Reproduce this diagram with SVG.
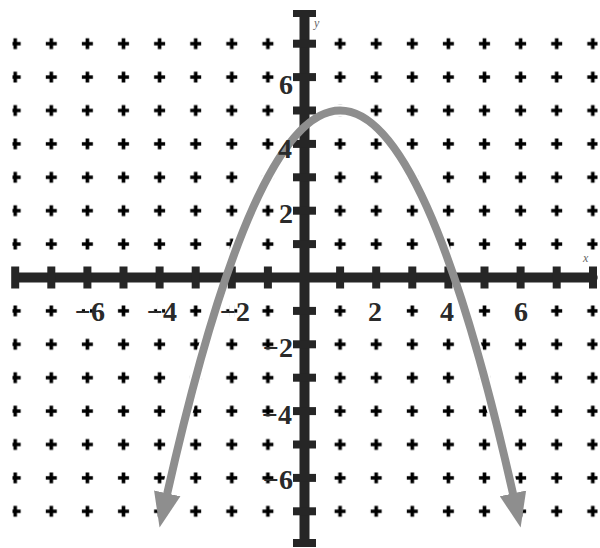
<svg xmlns="http://www.w3.org/2000/svg" width="600" height="548" viewBox="0 0 600 548">
  <style>
    .axis { fill: #262626; }
    .curve { fill: none; stroke: #8e8e8e; stroke-width: 8; }
    .halo { fill: none; stroke: #fff; stroke-width: 12; }
    .lbl { font-family: "Liberation Serif", "Times New Roman", serif; font-weight: bold; font-size: 28px; fill: #2a2a2a; }
    .ax { font-family: "Liberation Serif", "Times New Roman", serif; font-style: italic; font-size: 12px; fill: #666; }
  </style>
  <defs>
    <pattern id="plusGrid" patternUnits="userSpaceOnUse" x="285.95" y="260.8" width="36.1" height="33.4">
      <path d="M12.55,16.7 H23.55 M18.05,11.2 V22.2" stroke="#000" stroke-width="3.6"/>
    </pattern>
    <mask id="labelGaps" maskUnits="userSpaceOnUse" x="0" y="0" width="600" height="548">
      <rect width="600" height="548" fill="#fff"/>
      <rect x="85" y="303" width="5" height="16" fill="#000"/>
      <rect x="157.1" y="303" width="5" height="16" fill="#000"/>
      <rect x="229.3" y="303" width="5" height="16" fill="#000"/>
      <rect x="368.7" y="303" width="15" height="16" fill="#000"/>
      <rect x="440.9" y="303" width="15" height="16" fill="#000"/>
      <rect x="513.1" y="303" width="15" height="16" fill="#000"/>
    </mask>
    <marker id="ah" markerUnits="userSpaceOnUse" markerWidth="40" markerHeight="30" refX="2" refY="15" orient="auto-start-reverse">
      <path d="M0,1.5 L35,15 L0,28.5 z" fill="#8e8e8e"/>
    </marker>
  </defs>
  <rect width="600" height="548" fill="#fff"/>

  <g id="grid-marks">
    <rect x="12.5" y="30" width="585" height="495" fill="url(#plusGrid)" mask="url(#labelGaps)"/>
  </g>

  <g id="curve-halo">
    <path class="halo" d="M166.8,495.3 Q340.1,-274.3 513.4,495.3"/>
  </g>

  <g id="x-axis" class="axis">
    <rect x="13" y="272.5" width="584" height="10"/>
    <rect x="11.2" y="266.5" width="8" height="22"/>
    <rect x="47.3" y="266.5" width="8" height="22"/>
    <rect x="83.4" y="266.5" width="8" height="22"/>
    <rect x="119.5" y="266.5" width="8" height="22"/>
    <rect x="155.6" y="266.5" width="8" height="22"/>
    <rect x="191.7" y="266.5" width="8" height="22"/>
    <rect x="227.8" y="266.5" width="8" height="22"/>
    <rect x="263.9" y="266.5" width="8" height="22"/>
    <rect x="336.1" y="266.5" width="8" height="22"/>
    <rect x="372.2" y="266.5" width="8" height="22"/>
    <rect x="408.3" y="266.5" width="8" height="22"/>
    <rect x="444.4" y="266.5" width="8" height="22"/>
    <rect x="480.5" y="266.5" width="8" height="22"/>
    <rect x="516.6" y="266.5" width="8" height="22"/>
    <rect x="552.7" y="266.5" width="8" height="22"/>
    <rect x="589" y="266.5" width="8" height="22"/>
  </g>

  <g id="y-axis" class="axis">
    <rect x="299.5" y="10" width="10" height="537"/>
    <rect x="293" y="10" width="23" height="7"/>
    <rect x="293" y="39.7" width="23" height="8"/>
    <rect x="293" y="73.1" width="23" height="8"/>
    <rect x="293" y="106.5" width="23" height="8"/>
    <rect x="293" y="139.9" width="23" height="8"/>
    <rect x="293" y="173.3" width="23" height="8"/>
    <rect x="293" y="206.7" width="23" height="8"/>
    <rect x="293" y="240.1" width="23" height="8"/>
    <rect x="293" y="306.9" width="23" height="8"/>
    <rect x="293" y="340.3" width="23" height="8"/>
    <rect x="293" y="373.7" width="23" height="8"/>
    <rect x="293" y="407.1" width="23" height="8"/>
    <rect x="293" y="440.5" width="23" height="8"/>
    <rect x="293" y="473.9" width="23" height="8"/>
    <rect x="293" y="507.3" width="23" height="8"/>
    <rect x="293" y="539" width="23" height="8"/>
  </g>

  <g id="parabola">
    <path class="curve" d="M166.8,495.3 Q340.1,-274.3 513.4,495.3" marker-start="url(#ah)" marker-end="url(#ah)"/>
  </g>

  <g id="x-labels">
    <text class="lbl" x="105" y="321" text-anchor="end">−6</text>
    <text class="lbl" x="177" y="321" text-anchor="end">−4</text>
    <text class="lbl" x="250" y="321" text-anchor="end">−2</text>
    <text class="lbl" x="375" y="321" text-anchor="middle">2</text>
    <text class="lbl" x="447" y="321" text-anchor="middle">4</text>
    <text class="lbl" x="521" y="321" text-anchor="middle">6</text>
  </g>

  <g id="y-labels">
    <text class="lbl" x="293" y="94" text-anchor="end">6</text>
    <text class="lbl" x="292" y="158" text-anchor="end">4</text>
    <text class="lbl" x="293" y="223" text-anchor="end">2</text>
    <text class="lbl" x="293" y="357" text-anchor="end">−2</text>
    <text class="lbl" x="292" y="424" text-anchor="end">−4</text>
    <text class="lbl" x="293" y="489" text-anchor="end">−6</text>
  </g>

  <g id="axis-names">
    <text class="ax" x="314" y="27">y</text>
    <text class="ax" x="583" y="262">x</text>
  </g>
</svg>
